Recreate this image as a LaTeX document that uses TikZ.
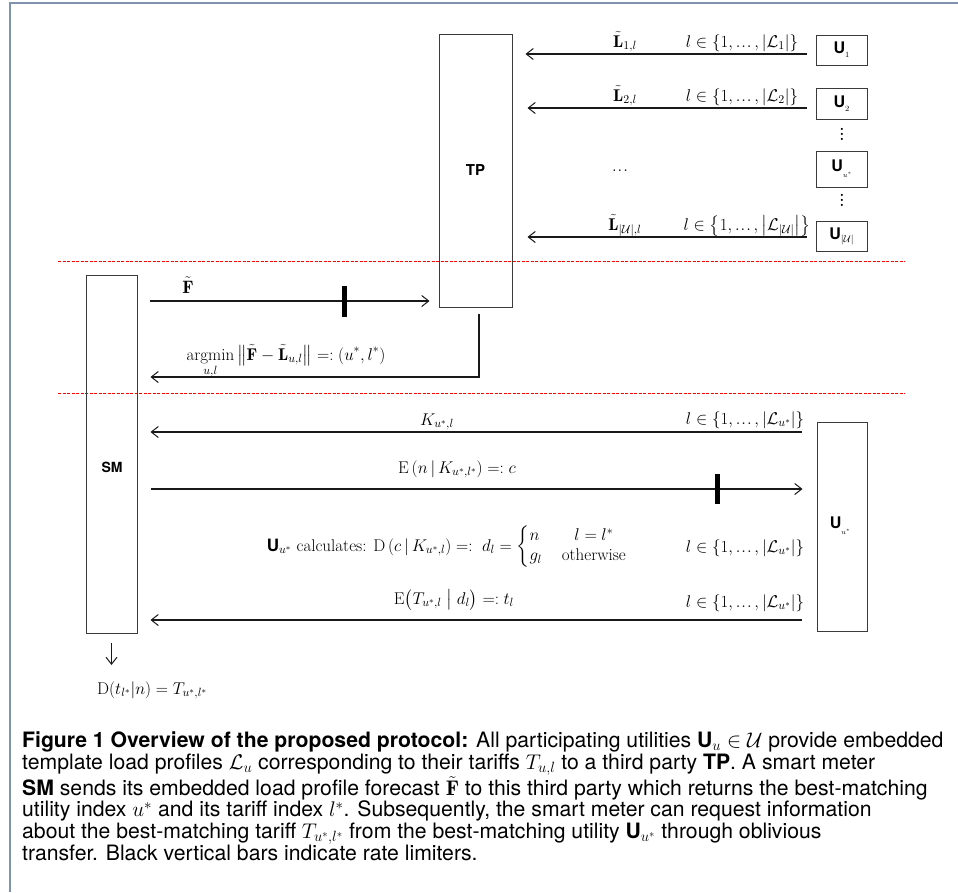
\RequirePackage{fix-cm}
\documentclass[tikz,border=0pt]{standalone}
\usepackage{amsmath}
\usepackage{fontspec}
\setsansfont{TeX Gyre Heros}
\usetikzlibrary{arrows.meta,calc}
\definecolor{framecol}{HTML}{7F93AE}
\definecolor{boxcol}{HTML}{3A3A3A}
\newcommand\usub[1]{\raisebox{-4pt}{\fontsize{8}{9}\selectfont$#1$}}
\newcommand\usubsm[1]{\raisebox{-6pt}{\fontsize{7}{8}\selectfont$#1$}}
\newcommand\tdots{\mathinner{.\kern1pt.\kern1pt.}}
\newcommand\vdts{\vbox{\baselineskip5pt\lineskiplimit0pt\hbox{.}\hbox{.}\hbox{.}}}
\tikzset{
  frameline/.style={draw=framecol, line width=1.6pt},
  box/.style={draw=boxcol, line width=1pt, inner sep=0pt},
  ubox/.style={box, minimum width=51pt, font=\sffamily\bfseries\fontsize{16}{18}\selectfont},
  arr/.style={-{Straight Barb[length=7pt,width=11pt,line width=1pt]}, line width=1.1pt, draw=black!90},
  sepline/.style={draw=red, line width=1pt, dash pattern=on 3pt off 1.5pt},
  ratebar/.style={line width=5pt, draw=black},
  lbl/.style={font=\fontsize{17}{20}\selectfont, inner sep=0pt},
  dotlbl/.style={font=\bfseries\fontsize{15}{18}\selectfont, inner sep=0pt},
}
\begin{document}
\begin{tikzpicture}[x=1pt,y=-1pt]
\useasboundingbox (0,0) rectangle (958,892);
\draw[frameline] (10,892) -- (10,3) -- (958,3);

% ---- third party and utilities
\node[box, minimum width=73pt, minimum height=273pt, font=\sffamily\bfseries\fontsize{15}{18}\selectfont] (tp) at (475.5,170.5) {TP};
\node[ubox, minimum height=30pt] (u1) at (841.5,50) {U\usub{1}};
\node[ubox, minimum height=31pt] (u2) at (841.5,103.5) {U\usub{2}};
\node[ubox, minimum height=36pt] (ustar) at (841.5,169) {U\usubsm{u^*}};
\node[ubox, minimum height=30pt] (uU) at (841.5,236) {U\raisebox{-3pt}{\fontsize{10}{11}\selectfont$|\mathcal{U}|$}};
\node[dotlbl] (vd1) at (842,134) {\vdts};
\node[dotlbl] (vd2) at (842,200) {\vdts};

\coordinate (y1) at (0,54);
\coordinate (y2) at (0,108);
\coordinate (y4) at (0,237);
\draw[arr, shorten <=9pt, shorten >=13pt] (u1.west |- y1) -- (tp.east |- y1);
\draw[arr, shorten <=9pt, shorten >=15pt] (u2.west |- y2) -- (tp.east |- y2);
\draw[arr, shorten <=9pt, shorten >=15pt] (uU.west |- y4) -- (tp.east |- y4);

\node[lbl, anchor=base] (l1a) at (625,47) {$\tilde{\mathbf{L}}_{1,l}$};
\node[lbl, anchor=base] (l1b) at (742,47) {$l\in\{1,\tdots,|\mathcal{L}_1|\}$};
\node[lbl, anchor=base] (l2a) at (625,101) {$\tilde{\mathbf{L}}_{2,l}$};
\node[lbl, anchor=base] (l2b) at (742,101) {$l\in\{1,\tdots,|\mathcal{L}_2|\}$};
\node[lbl] (ldots) at (620,171) {$\tdots$};
\node[lbl, anchor=base] (l4a) at (625,230) {$\tilde{\mathbf{L}}_{|\mathcal{U}|,l}$};
\node[lbl, anchor=base] (l4b) at (747,230) {$l\in\bigl\{1,\tdots,\bigl|\mathcal{L}_{|\mathcal{U}|}\bigr|\bigr\}$};

% ---- separators
\draw[sepline] (58,261) -- (905,261);
\draw[sepline] (58,393) -- (905,393);

% ---- smart meter
\node[box, minimum width=51pt, minimum height=358pt] (sm) at (111.5,454) {};
\node[inner sep=0pt, font=\sffamily\bfseries\fontsize{14}{17}\selectfont] (smlbl) at (112,467) {SM};

\coordinate (yF) at (0,301);
\draw[arr, shorten <=12pt, shorten >=9pt] (sm.east |- yF) -- (tp.west |- yF);
\draw[ratebar] (344,286) -- (344,317);
\node[anchor=base, inner sep=0pt, font=\fontsize{18}{20}\selectfont] (flbl) at (188,293) {$\tilde{\mathbf{F}}$};

\coordinate (xR) at (479,0);
\coordinate (yR) at (0,377);
\draw[arr, shorten <=6pt, shorten >=13pt] (tp.south -| xR) |- (sm.east |- yR);
\node[lbl, anchor=base] (amin) at (286,360) {$\displaystyle\operatorname*{argmin}_{u,l}\left\|\tilde{\mathbf{F}}-\tilde{\mathbf{L}}_{u,l}\right\| =: (u^*,l^*)$};

% ---- best matching utility
\node[box, minimum width=50pt, minimum height=209pt] (us) at (842,526.5) {};
\node[inner sep=0pt, font=\sffamily\bfseries\fontsize{16}{18}\selectfont] (uslbl) at (840,526) {U\usubsm{u^*}};

\coordinate (yK) at (0,432);
\coordinate (yE) at (0,489);
\coordinate (yT) at (0,620);
\draw[arr, shorten <=15pt, shorten >=13pt] (us.west |- yK) -- (sm.east |- yK);
\draw[arr, shorten <=13pt, shorten >=14pt] (sm.east |- yE) -- (us.west |- yE);
\draw[ratebar] (717,474) -- (717,504);
\draw[arr, shorten <=15pt, shorten >=13pt] (us.west |- yT) -- (sm.east |- yT);

\node[lbl, anchor=base] (klbl) at (437,425) {$K_{u^*,l}$};
\node[lbl, anchor=base] (kset) at (745,424) {$l\in\{1,\tdots,|\mathcal{L}_{u^*}|\}$};
\node[lbl, anchor=base] (elbl) at (457,473) {$\mathrm{E}\left(n\,\middle|\,K_{u^*,l^*}\right) =: c$};
\node[lbl, anchor=base] (clbl) at (447,551) {{\sffamily\bfseries U}$_{u^*}$ calculates: $\mathrm{D}\left(c\,\middle|\,K_{u^*,l}\right) =:\;d_l = \left\{\begin{array}{@{}l@{\hspace{20pt}}c@{}} n & l = l^* \\ g_l & \text{otherwise}\end{array}\right.$};
\node[lbl, anchor=base] (cset) at (745,552) {$l\in\{1,\tdots,|\mathcal{L}_{u^*}|\}$};
\node[lbl, anchor=base] (tlbl) at (454,604) {$\mathrm{E}\bigl(T_{u^*,l}\bigm|d_l\bigr) =: t_l$};
\node[lbl, anchor=base] (tset) at (745,607) {$l\in\{1,\tdots,|\mathcal{L}_{u^*}|\}$};

\coordinate (yD) at (0,665);
\draw[arr, shorten <=9pt] (sm.south) -- (sm.south |- yD);
\node[lbl, anchor=base west] (dlbl) at (97,694) {$\mathrm{D}(t_{l^*}|n) = T_{u^*,l^*}$};

% ---- caption
\node[anchor=north west, align=left, inner sep=0pt, font=\sffamily\fontsize{21.2}{21.6}\selectfont] (cap) at (22,731.5) {%
\textbf{Figure 1 Overview of the proposed protocol:} All participating utilities \textbf{U}$_u\in\mathcal{U}$ provide embedded\\
template load profiles $\mathcal{L}_u$ corresponding to their tariffs $T_{u,l}$ to a third party \textbf{TP}. A smart meter\\
\textbf{SM} sends its embedded load profile forecast $\tilde{\mathbf{F}}$ to this third party which returns the best-matching\\
utility index $u^*$ and its tariff index $l^*$. Subsequently, the smart meter can request information\\
about the best-matching tariff $T_{u^*,l^*}$ from the best-matching utility \textbf{U}$_{u^*}$ through oblivious\\
transfer. Black vertical bars indicate rate limiters.};
\end{tikzpicture}
\end{document}
